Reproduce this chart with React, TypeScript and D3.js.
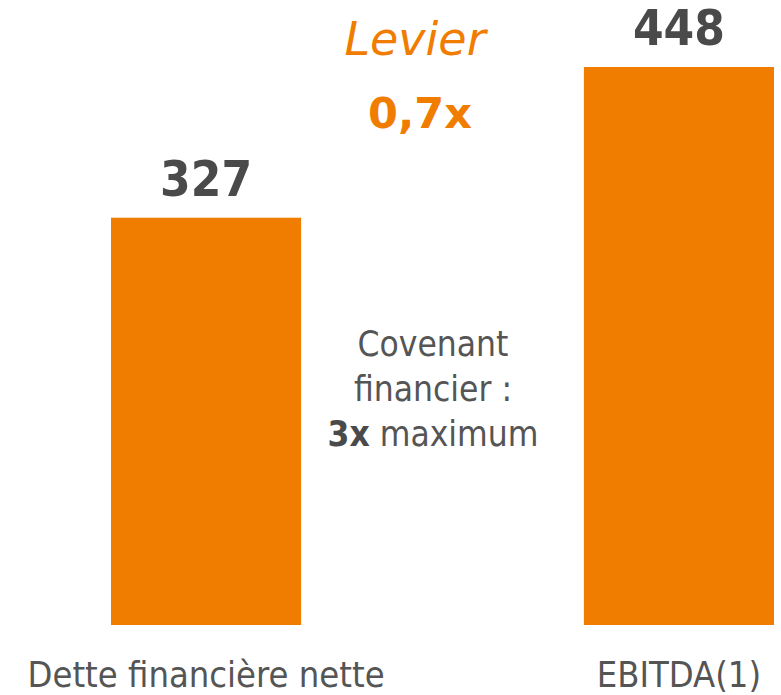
import React from "react";
import * as d3 from "d3";

// chart data
const categories = ["Dette financière nette", "EBITDA(1)"];
const values = [327, 448];
const leverageTitle = "Levier";
const leverageValue = "0,7x";
const covenantLines = ["Covenant", "financier :"];
const covenantBold = "3x";
const covenantRest = " maximum";

const W = 781;
const H = 695;
const orange = "#F07C00";
const dark = "#4a4a4a";
const grey = "#555555";
const cond = "'DejaVu Sans Condensed', 'DejaVu Sans', sans-serif";
const sans = "'DejaVu Sans', sans-serif";

export default function App() {
  // scales
  const x = d3.scaleBand<string>()
    .domain(categories)
    .range([111, 774])
    .paddingInner(0.598)
    .paddingOuter(0);
  const y = d3.scaleLinear().domain([0, d3.max(values) as number]).range([625, 67]);

  const mid = 433;

  return (
    <svg width={W} height={H} style={{ position: "absolute", left: 0, top: 0, background: "#fff" }}>
      {categories.map((c, i) => {
        const bx = x(c) as number;
        const cx = bx + x.bandwidth() / 2;
        return (
          <g key={c}>
            <rect x={bx} y={y(values[i])} width={x.bandwidth()} height={y(0) - y(values[i])} fill={orange} />
            <text x={cx} y={y(values[i]) - 22} textAnchor="middle" fontFamily={cond}
              fontWeight="bold" fontSize={49} fill={dark}>{values[i]}</text>
            <text x={cx} y={687} textAnchor="middle" fontFamily={cond} fontSize={36} fill={grey}>{c}</text>
          </g>
        );
      })}

      {/* leverage */}
      <text x={415} y={55} textAnchor="middle" fontFamily={sans} fontStyle="italic"
        fontSize={46} fill={orange}>{leverageTitle}</text>
      <text x={420} y={128} textAnchor="middle" fontFamily={sans} fontWeight="bold"
        fontSize={43} fill={orange}>{leverageValue}</text>

      {/* covenant note */}
      {covenantLines.map((l, i) => (
        <text key={l} x={mid} y={356 + i * 45} textAnchor="middle" fontFamily={cond}
          fontSize={35} fill={grey}>{l}</text>
      ))}
      <text x={mid} y={446} textAnchor="middle" fontFamily={cond} fontSize={35} fill={grey}>
        <tspan fontWeight="bold" fill={dark}>{covenantBold}</tspan>
        <tspan>{covenantRest}</tspan>
      </text>
    </svg>
  );
}
